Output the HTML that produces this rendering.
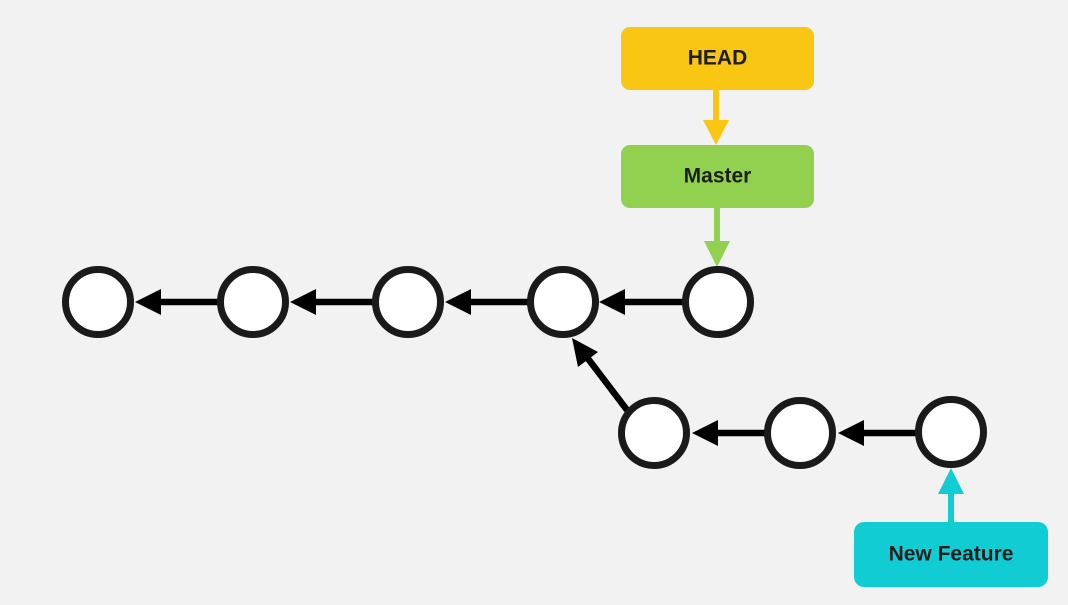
<!DOCTYPE html>
<html><head><style>
html,body{margin:0;padding:0;background:#f2f2f2;}
svg{display:block}
text{font-family:"Liberation Sans",sans-serif;font-weight:bold;font-size:21px;fill:#1e1e1e;text-anchor:middle;dominant-baseline:central}
</style></head><body>
<svg width="1068" height="605" viewBox="0 0 1068 605">
<rect width="1068" height="605" fill="#f2f2f2"/>
<!-- boxes -->
<rect x="621" y="27" width="193" height="63" rx="9" fill="#f9c613"/>
<text x="717.5" y="58">HEAD</text>
<rect x="621" y="145" width="193" height="63" rx="9" fill="#91d14f"/>
<text x="717.5" y="176">Master</text>
<rect x="854" y="522" width="194" height="65" rx="10" fill="#12ccd4"/>
<text x="951" y="554">New Feature</text>
<!-- colored arrows -->
<line x1="716" y1="90" x2="716" y2="122" stroke="#f9c613" stroke-width="6"/>
<polygon points="703,120 729,120 716,145" fill="#f9c613"/>
<line x1="717" y1="208" x2="717" y2="243" stroke="#91d14f" stroke-width="6"/>
<polygon points="704,241 730,241 717,267" fill="#91d14f"/>
<line x1="951" y1="522" x2="951" y2="492" stroke="#12ccd4" stroke-width="6"/>
<polygon points="938,494 964,494 951,468" fill="#12ccd4"/>
<!-- black arrows top row -->
<g stroke="#000" stroke-width="6.5">
<line x1="218" y1="302" x2="158" y2="302"/>
<line x1="373" y1="302" x2="313" y2="302"/>
<line x1="528" y1="302" x2="468" y2="302"/>
<line x1="683" y1="302" x2="623" y2="302"/>
<line x1="765" y1="433" x2="710" y2="433"/>
<line x1="916" y1="433" x2="858" y2="433"/>
<line x1="627" y1="410" x2="586" y2="356"/>
</g>
<g fill="#000">
<polygon points="135,302 161,289 161,315"/>
<polygon points="290,302 316,289 316,315"/>
<polygon points="445,302 471,289 471,315"/>
<polygon points="599,302 625,289 625,315"/>
<polygon points="692,433 718,420 718,446"/>
<polygon points="838,433 864,420 864,446"/>
<polygon points="572,338 578,367 598,352"/>
</g>
<!-- circles -->
<g fill="#fff" stroke="#1a1a1a" stroke-width="7">
<circle cx="98" cy="302" r="32.5"/>
<circle cx="253" cy="302" r="32.5"/>
<circle cx="408" cy="302" r="32.5"/>
<circle cx="563" cy="302" r="32.5"/>
<circle cx="718" cy="302" r="32.5"/>
<circle cx="654" cy="433" r="32.5"/>
<circle cx="800" cy="433" r="32.5"/>
<circle cx="951" cy="432" r="32.5"/>
</g>
</svg>
</body></html>
